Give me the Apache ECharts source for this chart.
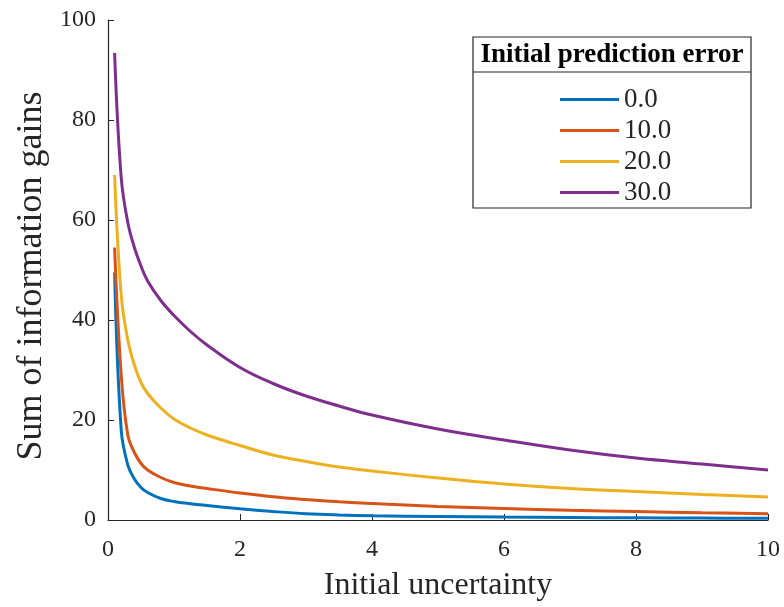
<!DOCTYPE html>
<html>
<head>
<meta charset="utf-8">
<script src="https://cdn.jsdelivr.net/npm/echarts@6/dist/echarts.min.js"></script>
<style>html,body{margin:0;padding:0;background:#fff}#c{width:784px;height:607px}</style>
</head>
<body>
<div id="c"></div>
<script>
const xValues = [0.1, 0.2, 0.3, 0.4, 0.5, 0.6, 0.8, 1.0, 1.25, 1.5, 2, 2.5, 3, 3.5, 4, 5, 6, 7, 8, 9, 10];
const seriesNames = ['0.0', '10.0', '20.0', '30.0'];
const err0 = [49.5, 18, 11, 8.2, 6.5, 5.5, 4.3, 3.7, 3.25, 2.9, 2.25, 1.7, 1.25, 1.0, 0.85, 0.7, 0.58, 0.5, 0.43, 0.38, 0.34];
const err10 = [54.5, 29, 17, 13.5, 11.3, 10.0, 8.5, 7.5, 6.8, 6.3, 5.4, 4.65, 4.1, 3.65, 3.3, 2.7, 2.3, 1.95, 1.7, 1.45, 1.25];
const err20 = [69, 45, 36, 31, 27.5, 25.3, 22.4, 20.2, 18.4, 17.0, 14.9, 13.0, 11.7, 10.6, 9.8, 8.4, 7.2, 6.3, 5.7, 5.1, 4.6];
const err30 = [93.4, 68.5, 59.5, 54.5, 50.8, 47.8, 43.9, 40.9, 37.7, 35, 30.5, 27.3, 24.8, 22.8, 21, 18.2, 16, 14.0, 12.4, 11.2, 10.0];
const xTicks = [0, 2, 4, 6, 8, 10];
const yTicks = [0, 20, 40, 60, 80, 100];
const colors = ['#0072BD', '#D95319', '#EDB120', '#7E2F8E'];
const allValues = [err0, err10, err20, err30];

const font = 'Liberation Serif';
const chart = echarts.init(document.getElementById('c'), null, {renderer: 'canvas'});
chart.setOption({
  animation: false,
  backgroundColor: '#fff',
  color: colors,
  grid: {left: 108, right: 16, top: 20, bottom: 85, containLabel: false},
  xAxis: {
    type: 'value', min: xTicks[0], max: xTicks[xTicks.length - 1], interval: 2,
    name: 'Initial uncertainty', nameLocation: 'middle', nameGap: 50,
    nameTextStyle: {fontFamily: font, fontSize: 32, color: '#262626'},
    axisLine: {lineStyle: {color: '#262626', width: 1.2}},
    axisTick: {inside: true, length: 6, lineStyle: {color: '#262626'}},
    axisLabel: {fontFamily: font, fontSize: 24, color: '#262626', margin: 18},
    splitLine: {show: false}
  },
  yAxis: {
    type: 'value', min: yTicks[0], max: yTicks[yTicks.length - 1], interval: 20,
    name: 'Sum of information gains', nameLocation: 'middle', nameGap: 56,
    nameTextStyle: {fontFamily: font, fontSize: 36, color: '#262626', padding: [0, 12, 0, 0]},
    axisLine: {show: true, lineStyle: {color: '#262626', width: 1.2}},
    axisTick: {show: true, inside: true, length: 6, lineStyle: {color: '#262626'}},
    axisLabel: {fontFamily: font, fontSize: 24, color: '#262626', margin: 12},
    splitLine: {show: false}
  },
  legend: {
    orient: 'vertical', left: 555, top: 81, itemGap: 4,
    icon: 'rect', itemWidth: 59, itemHeight: 3,
    textStyle: {fontFamily: font, fontSize: 27, lineHeight: 27, color: '#262626'},
    data: seriesNames
  },
  graphic: [
    {type: 'rect', shape: {x: 473, y: 37, width: 278, height: 171},
     style: {fill: '#fff', stroke: '#262626', lineWidth: 1.2}},
    {type: 'line', shape: {x1: 473, y1: 72, x2: 751, y2: 72},
     style: {stroke: '#262626', lineWidth: 1.2}},
    {type: 'text', x: 612, y: 55,
     style: {text: 'Initial prediction error', font: 'bold 27px "Liberation Serif"', fill: '#000',
             textAlign: 'center', textVerticalAlign: 'middle'}}
  ],
  series: allValues.map((vals, i) => ({
    name: seriesNames[i], type: 'line', showSymbol: false, symbol: 'none',
    smooth: 0.4,
    lineStyle: {width: 3, color: colors[i]},
    data: xValues.map((x, j) => [x, vals[j]]),
    z: 2
  }))
});
</script>
</body>
</html>
